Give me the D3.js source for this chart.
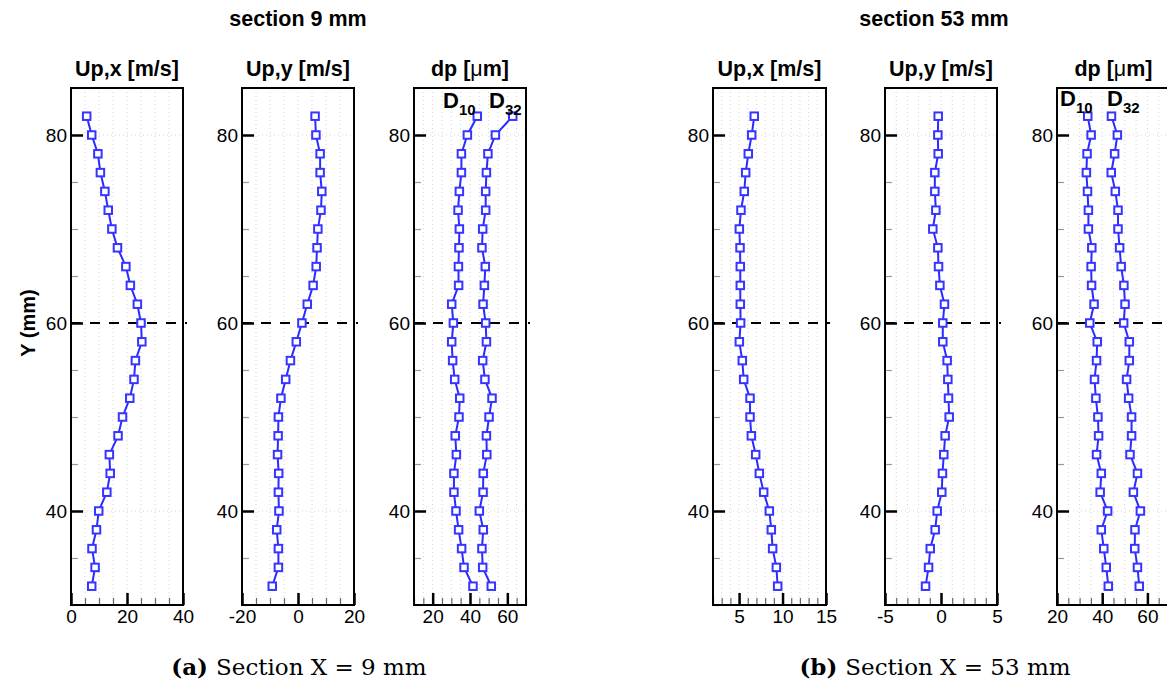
<!DOCTYPE html>
<html><head><meta charset="utf-8">
<script src="https://cdn.jsdelivr.net/npm/d3@7"></script>
<style>body{margin:0;background:#fff}</style>
</head><body><svg id="c" width="1167" height="691"></svg>
<script>
// ---- data ----
const yPos = [82,80,78,76,74,72,70,68,66,64,62,60,58,56,54,52,50,48,46,44,42,40,38,36,34,32];
const upx9 = [5.6,7.4,9.6,10.5,12.1,13.3,14.6,16.6,19.6,21.2,23.7,25.0,25.3,23.0,22.5,21.0,18.4,16.8,13.7,14.0,12.8,9.9,9.1,7.5,8.6,7.4];
const upy9 = [6.1,6.4,7.9,7.9,8.5,8.2,7.1,6.8,6.5,5.4,3.3,1.4,-0.6,-2.7,-4.4,-6.1,-7.0,-7.1,-7.3,-6.9,-7.0,-6.8,-7.6,-7.0,-7.0,-9.2];
const d10_9 = [43.9,38.6,35.4,35.4,34.3,33.6,34.3,34.1,33.8,33.9,30.2,31.1,30.2,30.7,31.8,34.5,34.1,32.1,32.7,31.4,31.4,32.5,33.9,35.5,36.8,41.6];
const d32_9 = [62.9,53.6,49.6,48.8,48.4,48.4,46.8,46.4,48.2,47.7,47.0,48.4,48.8,46.8,48.0,51.8,50.2,48.8,49.0,47.1,47.0,45.0,47.1,46.4,46.8,51.4];
const upx53 = [6.75,6.45,6.06,5.76,5.60,5.22,5.03,5.11,5.14,5.14,5.14,5.18,5.03,5.37,5.53,6.26,6.26,6.41,6.91,7.33,7.83,8.48,8.71,8.86,9.29,9.44];
const upy53 = [-0.25,-0.28,-0.25,-0.55,-0.55,-0.46,-0.73,-0.28,-0.22,-0.10,0.31,0.16,0.16,0.55,0.61,0.67,0.73,0.37,0.25,0.13,0.07,-0.34,-0.52,-0.96,-1.11,-1.38];
const d10_53 = [33.6,35.1,33.3,33.0,33.5,33.9,33.9,35.4,35.1,35.3,36.4,34.5,37.8,37.5,36.6,37.2,38.1,38.4,37.5,39.6,39.1,42.4,39.6,40.7,41.8,42.7];
const d32_53 = [44.1,46.7,45.5,44.0,45.8,47.0,47.0,47.7,48.4,49.6,50.1,49.5,52.0,52.0,50.8,51.7,53.0,53.0,52.3,55.6,53.8,56.9,54.5,54.4,55.6,56.4];

const yDomain = [30,85];
const yMajor = [40,60,80];
const yRef = 60;
const sectionTitles = ["section 9 mm","section 53 mm"];
const captionsBold = ["(a)","(b)"];
const captionsText = ["Section X = 9 mm","Section X = 53 mm"];
const panelTitles = ["Up,x [m/s]","Up,y [m/s]","dp","Up,x [m/s]","Up,y [m/s]","dp"];
const xDomains = [[0,40],[-20,20],[10,70],[2,15],[-5,5],[20,70]];
const xMajors = [[0,20,40],[-20,0,20],[20,40,60],[5,10,15],[-5,0,5],[20,40,60]];
const xMinorSteps = [5,5,5,1,1,5];
const series = [[upx9],[upy9],[d10_9,d32_9],[upx53],[upy53],[d10_53,d32_53]];

// ---- layout ----
const frames = [[71,183],[242,354],[414,526],[713,826],[885,997],[1057,1170]];
const plotTop = 88, plotBottom = 605;
const blue = "#2b2bff";
const svg = d3.select("#c");
const sans = "'Liberation Sans', Arial, sans-serif";
const y = d3.scaleLinear().domain(yDomain).range([plotBottom, plotTop]);
const fmt = d => String(d);

frames.forEach((f, i) => {
  const x = d3.scaleLinear().domain(xDomains[i]).range(f);
  const g = svg.append("g");
  const dom = xDomains[i];
  const minor = d3.range(dom[0], dom[1] + 1e-9, xMinorSteps[i]);
  const yMinor = d3.range(yDomain[0], yDomain[1] + 1e-9, 5);
  // grid
  g.append("g").selectAll("line").data(minor.filter(v => v > dom[0] && v < dom[1])).join("line")
    .attr("x1", d => x(d)).attr("x2", d => x(d)).attr("y1", plotTop).attr("y2", plotBottom)
    .attr("stroke", "#c8c8c8").attr("stroke-width", 0.8).attr("stroke-dasharray", "1,3");
  g.append("g").selectAll("line").data(yMajor.filter(v => v !== yRef)).join("line")
    .attr("x1", f[0]).attr("x2", f[1]).attr("y1", d => y(d)).attr("y2", d => y(d))
    .attr("stroke", "#c8c8c8").attr("stroke-width", 0.8).attr("stroke-dasharray", "1,3");
  // bottom axis minor/major
  const bx = g.append("g").attr("transform", `translate(0,${plotBottom})`);
  bx.call(d3.axisBottom(x).tickValues(minor).tickSize(-7).tickFormat(""))
    .call(a => a.select(".domain").remove())
    .call(a => a.selectAll("line").attr("stroke", "#666").attr("stroke-width", 1.2));
  const bxM = g.append("g").attr("transform", `translate(0,${plotBottom})`);
  bxM.call(d3.axisBottom(x).tickValues(xMajors[i]).tickSize(-12).tickPadding(5).tickFormat(fmt))
    .call(a => a.select(".domain").remove())
    .call(a => a.selectAll("line").attr("stroke", "#000").attr("stroke-width", 2.5))
    .call(a => a.selectAll("text").attr("font-family", sans).attr("font-size", 19).attr("fill", "#000"));
  // left axis
  const ly = g.append("g").attr("transform", `translate(${f[0]},0)`);
  ly.call(d3.axisLeft(y).tickValues(yMinor).tickSize(-7).tickFormat(""))
    .call(a => a.select(".domain").remove())
    .call(a => a.selectAll("line").attr("stroke", "#999").attr("stroke-width", 1.2));
  const lyM = g.append("g").attr("transform", `translate(${f[0]},0)`);
  lyM.call(d3.axisLeft(y).tickValues(yMajor).tickSize(-12).tickFormat(fmt))
    .call(a => a.select(".domain").remove())
    .call(a => a.selectAll("line").attr("stroke", "#000").attr("stroke-width", 2.5))
    .call(a => a.selectAll("text").attr("x", -4).attr("font-family", sans).attr("font-size", 19).attr("fill", "#000"));
  // ref dashed line
  g.append("line").attr("x1", f[0]).attr("x2", f[1] + 4).attr("y1", y(yRef)).attr("y2", y(yRef))
    .attr("stroke", "#000").attr("stroke-width", 2).attr("stroke-dasharray", "10,9");
  // frame
  g.append("rect").attr("x", f[0]).attr("y", plotTop).attr("width", f[1] - f[0]).attr("height", plotBottom - plotTop)
    .attr("fill", "none").attr("stroke", "#000").attr("stroke-width", 2);
  // series
  series[i].forEach(s => {
    const pts = s.map((v, k) => [v, yPos[k]]);
    g.append("path").datum(pts)
      .attr("d", d3.line().x(d => x(d[0])).y(d => y(d[1])))
      .attr("fill", "none").attr("stroke", blue).attr("stroke-width", 2);
    g.append("g").selectAll("rect").data(pts).join("rect")
      .attr("x", d => x(d[0]) - 3.75).attr("y", d => y(d[1]) - 3.75).attr("width", 7.5).attr("height", 7.5)
      .attr("fill", "#fff").attr("stroke", "#3535ff").attr("stroke-width", 2);
  });
  // panel title
  const t = svg.append("text").attr("x", (f[0] + f[1]) / 2).attr("y", 76).attr("text-anchor", "middle")
    .attr("font-family", sans).attr("font-weight", "bold").attr("font-size", 21.5).text(panelTitles[i]);
  if (panelTitles[i] === "dp") {
    t.text("dp [");
    t.append("tspan").attr("font-weight", "normal").text("\u03bc");
    t.append("tspan").text("m]");
  }
});

// D10 / D32 labels
const dLabels = [[443,108,"D","10"],[489,108,"D","32"],[1060,106,"D","10"],[1107,106,"D","32"]];
dLabels.forEach(([lx, ly, m, s]) => {
  const t = svg.append("text").attr("x", lx).attr("y", ly).attr("font-family", sans)
    .attr("font-weight", "bold").attr("font-size", 22).text(m);
  t.append("tspan").attr("dy", 7).attr("font-size", 15).text(s);
});

// section titles
[[298,sectionTitles[0]],[934,sectionTitles[1]]].forEach(([cx, s]) =>
  svg.append("text").attr("x", cx).attr("y", 26).attr("text-anchor", "middle")
    .attr("font-family", sans).attr("font-weight", "bold").attr("font-size", 21.5).text(s));

// Y label
svg.append("text").attr("transform", "translate(35,323) rotate(-90)").attr("text-anchor", "middle")
  .attr("font-family", sans).attr("font-weight", "bold").attr("font-size", 20).text("Y (mm)");

// captions
[[299,0],[935,1]].forEach(([cx, k]) => {
  const t = svg.append("text").attr("x", cx).attr("y", 675).attr("text-anchor", "middle")
    .attr("font-family", "'DejaVu Serif', serif").attr("font-size", 23);
  t.append("tspan").attr("font-weight", "bold").text(captionsBold[k] + " ");
  t.append("tspan").text(captionsText[k]);
});
</script></body></html>
